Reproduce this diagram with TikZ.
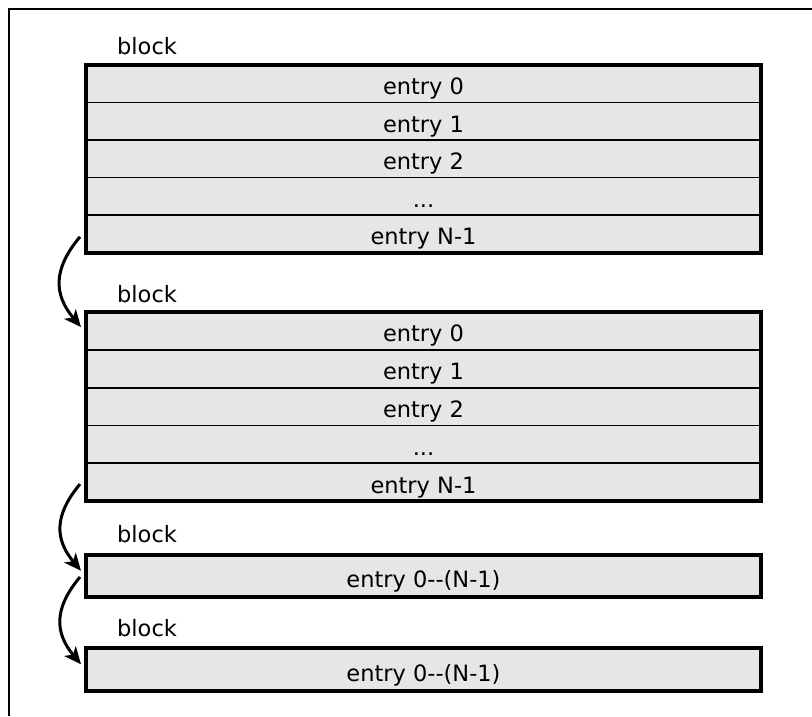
\documentclass[tikz,border=0pt]{standalone}
\usepackage{fontspec}
\setmainfont{DejaVu Sans}
\usetikzlibrary{arrows.meta,calc}
\definecolor{cellgray}{RGB}{230,230,230}
\newcommand\entryfont{\fontsize{22.5}{26}\selectfont}
\newcommand\gapmark{...}

\begin{document}
\begin{tikzpicture}[x=1pt,y=-1pt,
  row/.style={draw=black, line width=1.6pt, fill=cellgray,
    minimum width=675pt, minimum height=37.6pt, inner sep=0pt, outer sep=0pt,
    font=\entryfont, text height=22pt, text depth=0pt},
  single/.style={row, minimum height=42.5pt, text height=23pt},
  frame/.style={draw=black, line width=4pt},
  blocklabel/.style={anchor=base west, inner sep=0pt, font=\entryfont},
  link/.style={draw=black, line width=3pt, looseness=1.2,
    -{Stealth[length=17pt,width=15pt,inset=4.5pt]}}
]
\useasboundingbox (0,0) rectangle (812,716);

% outer border (left and top edges)
\draw[line width=2.5pt] (9,716) -- (9,9) -- (812,9);

% first block: five entries
\foreach \i/\t in {0/{entry 0},1/{entry 1},2/{entry 2},3/{\gapmark},4/{entry N-1}}
  \node[row] (a\i) at (423.5,{65+37.5*(\i+0.5)}) {\t};
\draw[frame] (a0.north west) rectangle (a4.south east);
\node[blocklabel] (la) at ($(a0.north west)+(31,-10)$) {block};

% second block: five entries
\foreach \i/\t in {0/{entry 0},1/{entry 1},2/{entry 2},3/{\gapmark},4/{entry N-1}}
  \node[row] (b\i) at (423.5,{312+37.8*(\i+0.5)}) {\t};
\draw[frame] (b0.north west) rectangle (b4.south east);
\node[blocklabel] (lb) at ($(b0.north west)+(31,-10)$) {block};

% third and fourth blocks: single collapsed entry
\node[single] (c0) at (423.5,576) {entry 0-{}-(N-1)};
\draw[frame] (c0.north west) rectangle (c0.south east);
\node[blocklabel] (lc) at ($(c0.north west)+(31,-12)$) {block};

\node[single] (d0) at (423.5,669.5) {entry 0-{}-(N-1)};
\draw[frame] (d0.north west) rectangle (d0.south east);
\node[blocklabel] (ld) at ($(d0.north west)+(31,-12)$) {block};

% links between consecutive blocks
\coordinate (s1) at ($(a4.west)+(-6,3)$);
\coordinate (e1) at ($(b0.north west)+(-5,15)$);
\coordinate (s2) at ($(b4.west)+(-6,2)$);
\coordinate (e2) at ($(c0.north west)+(-5,16)$);
\coordinate (s3) at ($(c0.west)+(-6,1)$);
\coordinate (e3) at ($(d0.north west)+(-5,16)$);
\draw[link] (s1) to[out=230,in=130] (e1);
\draw[link] (s2) to[out=230,in=130] (e2);
\draw[link] (s3) to[out=230,in=130] (e3);
\end{tikzpicture}
\end{document}
